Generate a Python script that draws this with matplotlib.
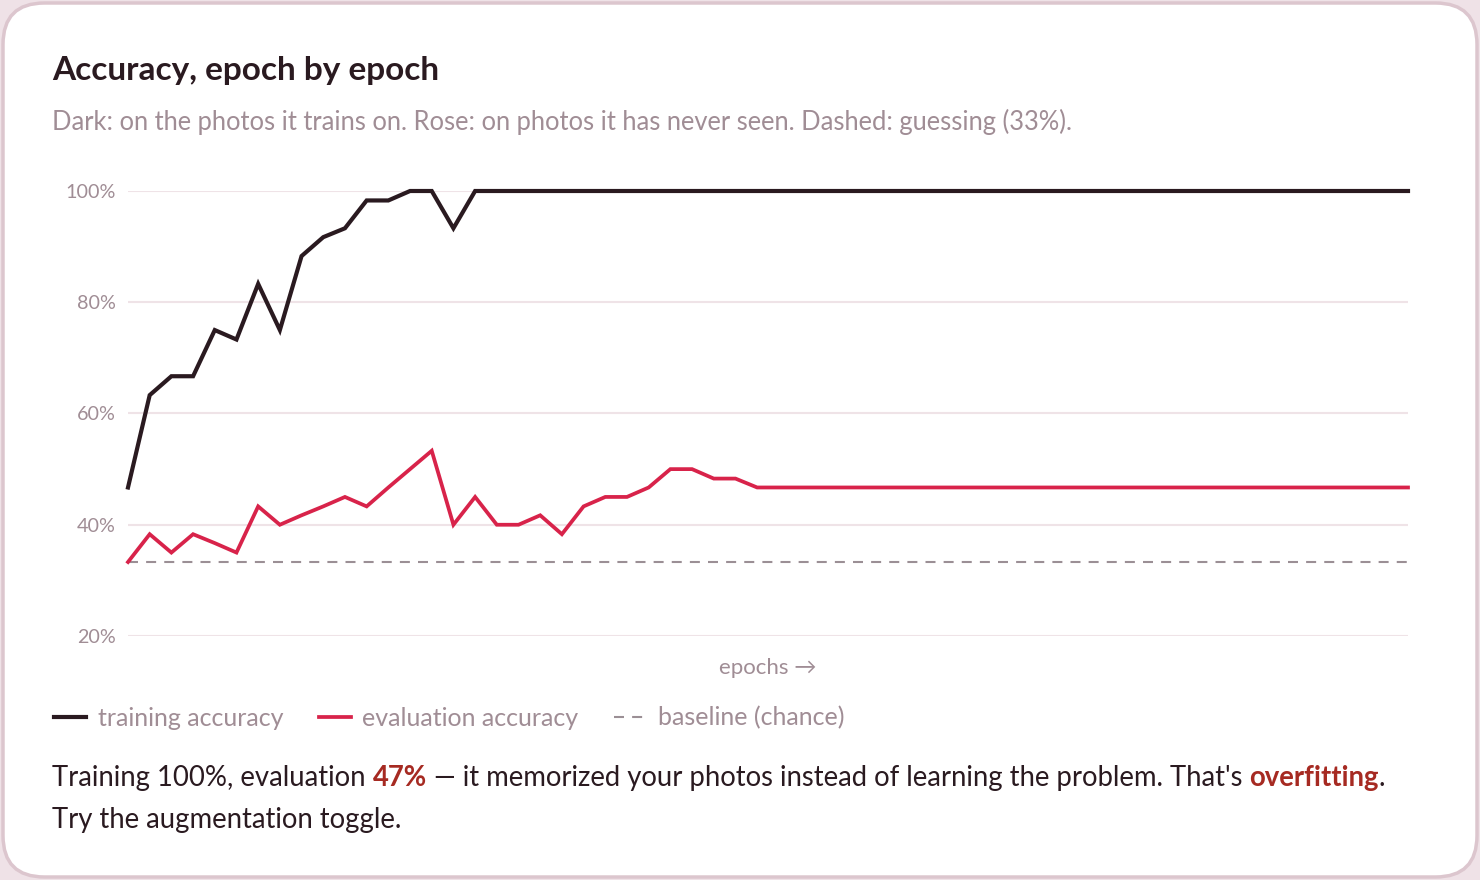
import matplotlib
matplotlib.use("Agg")
import matplotlib.pyplot as plt
from matplotlib.patches import FancyBboxPatch
import numpy as np

# -- DADOS --
epochs = np.arange(60)
train_acc = [46.7, 63.3, 66.7, 66.7, 75.0, 73.3, 83.3, 75.0, 88.3, 91.7,
             93.3, 98.3, 98.3, 100, 100, 93.3] + [100] * 44
eval_acc = [33.3, 38.3, 35.0, 38.3, 36.7, 35.0, 43.3, 40.0, 41.7, 43.3,
            45.0, 43.3, 46.7, 50.0, 53.3, 40.0, 45.0, 40.0, 40.0, 41.7,
            38.3, 43.3, 45.0, 45.0, 46.7, 50.0, 50.0, 48.3, 48.3] + [46.7] * 31
baseline = 33.3
y_ticks = [20, 40, 60, 80, 100]
y_labels = ["20%", "40%", "60%", "80%", "100%"]
legend_labels = ["training accuracy", "evaluation accuracy", "baseline (chance)"]

# -- CORES --
dark = "#2a1a20"
rose = "#d8234a"
gray = "#9b8f95"
grid_c = "#efe3e7"
muted = "#a08d95"
accent = "#a62a22"

plt.rcParams['font.family'] = ['Lato', 'DejaVu Sans']

W, H = 1480, 880
fig = plt.figure(figsize=(W / 100, H / 100), dpi=100)
fig.patch.set_facecolor("#efe2e7")

def fx(px): return px / W
def fy(py): return 1 - py / H

card = FancyBboxPatch((fx(3), fy(877)), fx(1474), 874 / H,
                      boxstyle="round,pad=0,rounding_size=0.028",
                      transform=fig.transFigure, facecolor="white",
                      edgecolor="#dcc6ce", linewidth=2.5, zorder=0,
                      mutation_aspect=W / H)
fig.add_artist(card)

# -- EIXOS --
ax = fig.add_axes([fx(128), fy(636), fx(1408) - fx(128), (636 - 191) / H])
ax.set_facecolor("none")
ax.set_xlim(0, 59)
ax.set_ylim(20, 100)
for y in y_ticks:
    ax.axhline(y, color=grid_c, linewidth=1.5, zorder=0)
ax.set_yticks(y_ticks)
ax.set_yticklabels(y_labels, color=muted, fontsize=14.2)
ax.tick_params(axis='y', length=0, pad=8.6)
ax.set_xticks([])
for s in ax.spines.values():
    s.set_visible(False)

l_base, = ax.plot(epochs, [baseline] * len(epochs), color=gray, linewidth=1.5,
                  dashes=(4.8, 3.9), zorder=1)
l_eval, = ax.plot(epochs, eval_acc, color=rose, linewidth=2.7, zorder=2,
                  solid_joinstyle='miter', clip_on=False)
l_train, = ax.plot(epochs, train_acc, color=dark, linewidth=3.0, zorder=3,
                   solid_joinstyle='miter', clip_on=False)

# -- TEXTOS --
fig.text(fx(52), fy(80), "Accuracy, epoch by epoch", fontsize=24,
         fontweight='bold', color=dark, va='baseline')
fig.text(fx(52), fy(130), "Dark: on the photos it trains on. Rose: on photos it has "
         "never seen. Dashed: guessing (33%).", fontsize=18.4, color=muted,
         va='baseline')
fig.text(fx(768), fy(668), "epochs \u2192", fontsize=16, color=muted,
         ha='center', va='center')

fig.legend([l_train, l_eval, l_base], legend_labels, loc='center left',
           bbox_to_anchor=(fx(44), fy(718)), ncol=3, frameon=False,
           fontsize=18, labelcolor=muted, handlelength=1.28,
           handletextpad=0.48, columnspacing=1.4, borderaxespad=0)

# rodapé com trechos destacados
renderer = fig.canvas.get_renderer()
pieces = [("Training 100%, evaluation ", dark, 'normal'),
          ("47%", accent, 'bold'),
          (" \u2014 it memorized your photos instead of learning the problem. That's ",
           dark, 'normal'),
          ("overfitting", accent, 'bold'),
          (".", dark, 'normal')]
x = fx(52)
for txt, c, w in pieces:
    t = fig.text(x, fy(786), txt, fontsize=19.8, color=c, fontweight=w,
                 va='baseline')
    bb = t.get_window_extent(renderer)
    x += bb.width / W
fig.text(fx(52), fy(828), "Try the augmentation toggle.", fontsize=19.8,
         color=dark, va='baseline')

plt.savefig("out.png", dpi=100, facecolor=fig.get_facecolor())
